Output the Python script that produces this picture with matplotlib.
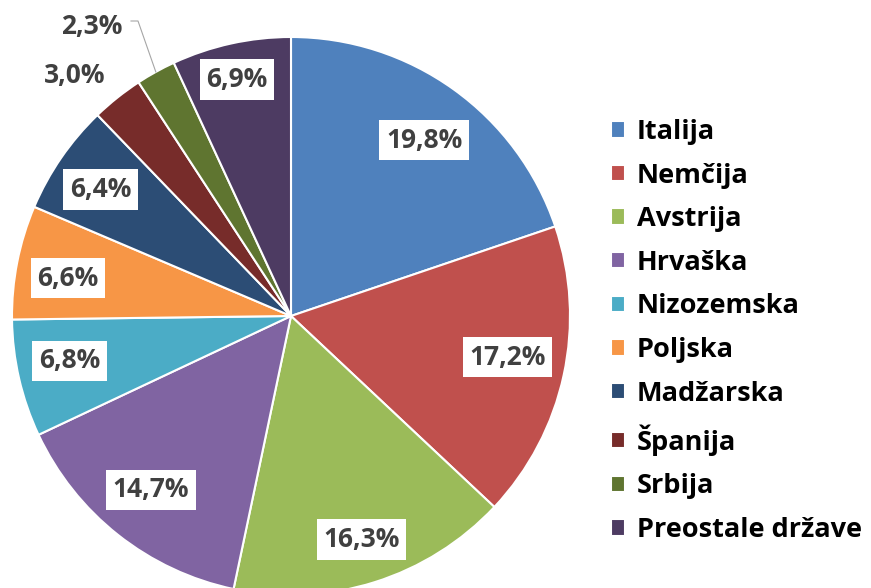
import matplotlib
matplotlib.use("Agg")
import matplotlib.pyplot as plt
import numpy as np

countries = ["Italija", "Nemčija", "Avstrija", "Hrvaška", "Nizozemska",
             "Poljska", "Madžarska", "Španija", "Srbija", "Preostale države"]
shares = [19.8, 17.2, 16.3, 14.7, 6.8, 6.6, 6.4, 3.0, 2.3, 6.9]
colors = ["#4F81BD", "#C0504D", "#9BBB59", "#8064A2", "#4BACC6",
          "#F79646", "#2C4D75", "#772C2A", "#5F7530", "#4D3B62"]
labels = [f"{v:.1f}%".replace(".", ",") for v in shares]

W, H = 871, 588
fig = plt.figure(figsize=(W / 100, H / 100), dpi=100)
ax = fig.add_axes([0, 0, 1, 1])
cx, cy, R = 291, H - 316, 279
wedges, _ = ax.pie(shares, colors=colors, startangle=90, counterclock=False,
                   center=(cx, cy), radius=R,
                   wedgeprops=dict(edgecolor="white", linewidth=1.5))
ax.set_xlim(0, W)
ax.set_ylim(0, H)
ax.set_aspect("equal")
ax.axis("off")

FONT = "Open Sans"
# label distance factors (fraction of radius) and angle tweaks; outside labels for small slices
dist = [0.79, 0.79, 0.84, 0.80, 0.81, 0.81, 0.82, 1.16, 1.26, 0.87]
dang = [-1.5, 1.5, 0, -0.5, -1.5, 1.5, 1, 3.5, 5.5, 0.5]
outside = [False] * 7 + [True, True, False]
for i, w in enumerate(wedges):
    mid = np.deg2rad((w.theta1 + w.theta2) / 2 + dang[i])
    x = cx + dist[i] * R * np.cos(mid)
    y = cy + dist[i] * R * np.sin(mid)
    kw = dict(ha="center", va="center", fontsize=19, fontweight="bold",
              family=FONT, color="#404040")
    if not outside[i]:
        kw["bbox"] = dict(boxstyle="square,pad=0.25", fc="white", ec="none")
    ax.text(x, y, labels[i], **kw)

# leader line for Srbija label
w = wedges[8]
mid = np.deg2rad((w.theta1 + w.theta2) / 2)
ex, ey = cx + R * np.cos(mid), cy + R * np.sin(mid)
ax.plot([131, 138, ex], [H - 21, H - 21, ey], color="#A6A6A6", lw=0.8)

leg = ax.legend(wedges, countries, loc="center left",
                bbox_to_anchor=(597 / W, 1 - 331 / H), frameon=False,
                prop=dict(family=FONT, weight="bold", size=19.5),
                handlelength=0.55, handleheight=0.55, handletextpad=0.42,
                labelspacing=0.65, borderpad=0)
for t in leg.get_texts():
    t.set_color("black")

fig.savefig("out.png", dpi=100)
